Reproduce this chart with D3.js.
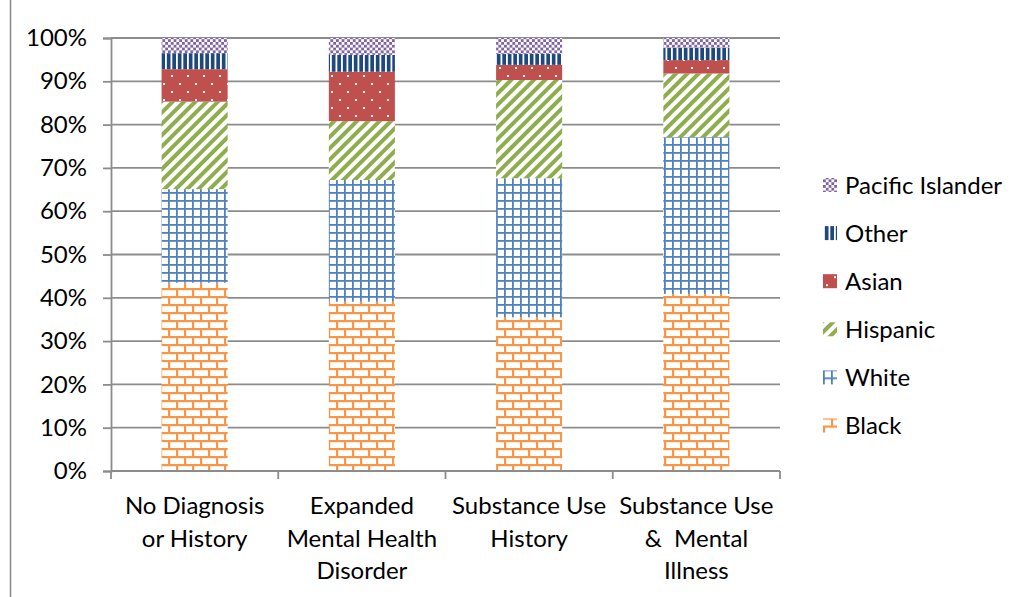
<!DOCTYPE html>
<html>
<head>
<meta charset="utf-8">
<script src="https://cdn.jsdelivr.net/npm/d3@7"></script>
<style>
  html, body { margin: 0; padding: 0; background: #fff; }
  svg { display: block; font-family: Lato, "Open Sans", sans-serif; }
</style>
</head>
<body>
<svg id="chart" width="1028" height="597"></svg>
<script>
// Category labels (line-broken as shown under the axis)
const categories = ["No Diagnosis or History", "Expanded Mental Health Disorder", "Substance Use History", "Substance Use & Mental Illness"];
const categoryLines = [["No Diagnosis", "or History"], ["Expanded", "Mental Health", "Disorder"], ["Substance Use", "History"], ["Substance Use", "&  Mental", "Illness"]];

// Share of each group, in percent, per category
const black    = [43.5, 39.1, 35.5, 40.9];
const white    = [21.6, 28.1, 32.1, 36.2];
const hispanic = [20.2, 13.6, 22.7, 14.7];
const asian    = [7.5, 11.4, 3.5, 3.1];
const other    = [3.7, 3.9, 2.5, 2.8];
const pacific  = [3.5, 3.9, 3.7, 2.3];

const seriesNames = ["Black", "White", "Hispanic", "Asian", "Other", "Pacific Islander"];
const seriesValues = [black, white, hispanic, asian, other, pacific];
const yTicks = [0, 10, 20, 30, 40, 50, 60, 70, 80, 90, 100];

const svg = d3.select("#chart");
const defs = svg.append("defs");
const FONT = 24;

// Fill patterns, one per series
function pattern(id, w, h, extra) {
  const p = defs.append("pattern").attr("id", id)
    .attr("patternUnits", "userSpaceOnUse").attr("width", w).attr("height", h);
  if (extra) p.attr("patternTransform", extra);
  return p;
}
// Black: orange horizontal brick
{
  const p = pattern("pat-black", 16, 16);
  p.append("rect").attr("width", 16).attr("height", 16).attr("fill", "#fff");
  p.append("rect").attr("x", 0).attr("y", 0).attr("width", 16).attr("height", 2.2).attr("fill", "#F79646");
  p.append("rect").attr("x", 0).attr("y", 8).attr("width", 16).attr("height", 2.2).attr("fill", "#F79646");
  p.append("rect").attr("x", 0).attr("y", 0).attr("width", 2.2).attr("height", 8).attr("fill", "#F79646");
  p.append("rect").attr("x", 8).attr("y", 8).attr("width", 2.2).attr("height", 8).attr("fill", "#F79646");
}
// White: blue grid
{
  const p = pattern("pat-white", 8, 8);
  p.append("rect").attr("width", 8).attr("height", 8).attr("fill", "#fff");
  p.append("rect").attr("x", 0).attr("y", 0).attr("width", 1.8).attr("height", 8).attr("fill", "#4F81BD");
  p.append("rect").attr("x", 0).attr("y", 0).attr("width", 8).attr("height", 1.8).attr("fill", "#4F81BD");
}
// Hispanic: green wide upward diagonal
{
  const p = pattern("pat-hispanic", 8, 8, "rotate(-45)");
  p.append("rect").attr("width", 8).attr("height", 8).attr("fill", "#fff");
  p.append("rect").attr("x", 0).attr("y", 0).attr("width", 8).attr("height", 4).attr("fill", "#8EAE4E");
}
// Asian: red with white dots
{
  const p = pattern("pat-asian", 16, 16);
  p.append("rect").attr("width", 16).attr("height", 16).attr("fill", "#C0504D");
  p.append("rect").attr("x", 3).attr("y", 3).attr("width", 2).attr("height", 2).attr("fill", "#fff");
  p.append("rect").attr("x", 11).attr("y", 11).attr("width", 2).attr("height", 2).attr("fill", "#fff");
}
// Other: dark blue with white vertical lines
{
  const p = pattern("pat-other", 5.5, 8);
  p.append("rect").attr("width", 5.5).attr("height", 8).attr("fill", "#1F497D");
  p.append("rect").attr("x", 0).attr("y", 0).attr("width", 1.8).attr("height", 8).attr("fill", "#fff");
}
// Pacific Islander: purple small checkerboard
{
  const p = pattern("pat-pacific", 5.6, 5.6);
  p.append("rect").attr("width", 5.6).attr("height", 5.6).attr("fill", "#fff");
  p.append("rect").attr("x", 0).attr("y", 0).attr("width", 2.8).attr("height", 2.8).attr("fill", "#8064A2");
  p.append("rect").attr("x", 2.8).attr("y", 2.8).attr("width", 2.8).attr("height", 2.8).attr("fill", "#8064A2");
}
const fills = {
  "Black": "url(#pat-black)", "White": "url(#pat-white)", "Hispanic": "url(#pat-hispanic)",
  "Asian": "url(#pat-asian)", "Other": "url(#pat-other)", "Pacific Islander": "url(#pat-pacific)"
};

// Chart area border (left edge visible)
svg.append("line").attr("x1", 10.5).attr("x2", 10.5).attr("y1", 0).attr("y2", 597)
  .attr("stroke", "#868686").attr("stroke-width", 1.5);

const plot = { left: 111, right: 780, top: 38, bottom: 471 };

const y = d3.scaleLinear().domain([0, 100]).range([plot.bottom, plot.top]);
const x = d3.scaleBand().domain(categories).range([plot.left, plot.right])
  .paddingInner(0.605).paddingOuter(0.3025);
const xCat = d3.scaleBand().domain(categories).range([plot.left, plot.right]).padding(0);

// Horizontal gridlines
svg.append("g").selectAll("line").data(yTicks.filter(d => d > 0)).join("line")
  .attr("x1", plot.left).attr("x2", plot.right)
  .attr("y1", d => y(d)).attr("y2", d => y(d))
  .attr("stroke", "#8C8C8C").attr("stroke-width", 1.8);

// Stacked bars
const table = categories.map((c, i) => {
  const row = { category: c };
  seriesNames.forEach((s, j) => { row[s] = seriesValues[j][i]; });
  return row;
});
const stacked = d3.stack().keys(seriesNames)(table);

svg.append("g").selectAll("g").data(stacked).join("g")
  .attr("fill", d => fills[d.key])
  .selectAll("rect").data(d => d).join("rect")
  .attr("x", d => x(d.data.category))
  .attr("width", x.bandwidth())
  .attr("y", d => y(d[1]))
  .attr("height", d => y(d[0]) - y(d[1]));

// Y axis
const yAxis = d3.axisLeft(y).tickValues(yTicks).tickFormat(d => d + "%").tickSize(8).tickPadding(16);
const gy = svg.append("g").attr("transform", `translate(${plot.left},0)`).call(yAxis);
gy.select(".domain").attr("stroke", "#8C8C8C").attr("stroke-width", 1.8);
gy.selectAll(".tick line").attr("stroke", "#8C8C8C").attr("stroke-width", 1.8);
gy.selectAll(".tick text").attr("font-size", FONT).attr("fill", "#000")
  .attr("font-family", "Lato, 'Open Sans', sans-serif");

// X axis with ticks at category boundaries
svg.append("line").attr("x1", plot.left).attr("x2", plot.right)
  .attr("y1", plot.bottom).attr("y2", plot.bottom)
  .attr("stroke", "#8C8C8C").attr("stroke-width", 1.8);
const bounds = categories.map(c => xCat(c)).concat([plot.right]);
svg.append("g").selectAll("line").data(bounds).join("line")
  .attr("x1", d => d).attr("x2", d => d)
  .attr("y1", plot.bottom).attr("y2", plot.bottom + 8)
  .attr("stroke", "#8C8C8C").attr("stroke-width", 1.8);

// Category labels
const labels = svg.append("g").selectAll("text").data(categories).join("text")
  .attr("x", c => xCat(c) + xCat.bandwidth() / 2)
  .attr("y", 514)
  .attr("text-anchor", "middle")
  .attr("font-size", FONT).attr("fill", "#000");
labels.each(function(c, i) {
  d3.select(this).selectAll("tspan").data(categoryLines[i]).join("tspan")
    .attr("x", xCat(c) + xCat.bandwidth() / 2)
    .attr("dy", (d, k) => k === 0 ? 0 : 32.5)
    .style("white-space", "pre")
    .text(d => d);
});

// Legend (top entry is the top of the stack)
const legendOrder = seriesNames.slice().reverse();
const lg = svg.append("g").selectAll("g").data(legendOrder).join("g")
  .attr("transform", (d, i) => `translate(823,${185 + i * 48.1})`);
lg.append("rect").attr("x", 0).attr("y", -7).attr("width", 14).attr("height", 14)
  .attr("fill", d => fills[d]);
lg.append("text").attr("x", 22).attr("y", 8.5).attr("font-size", FONT).attr("fill", "#000")
  .text(d => d);
</script>
</body>
</html>
